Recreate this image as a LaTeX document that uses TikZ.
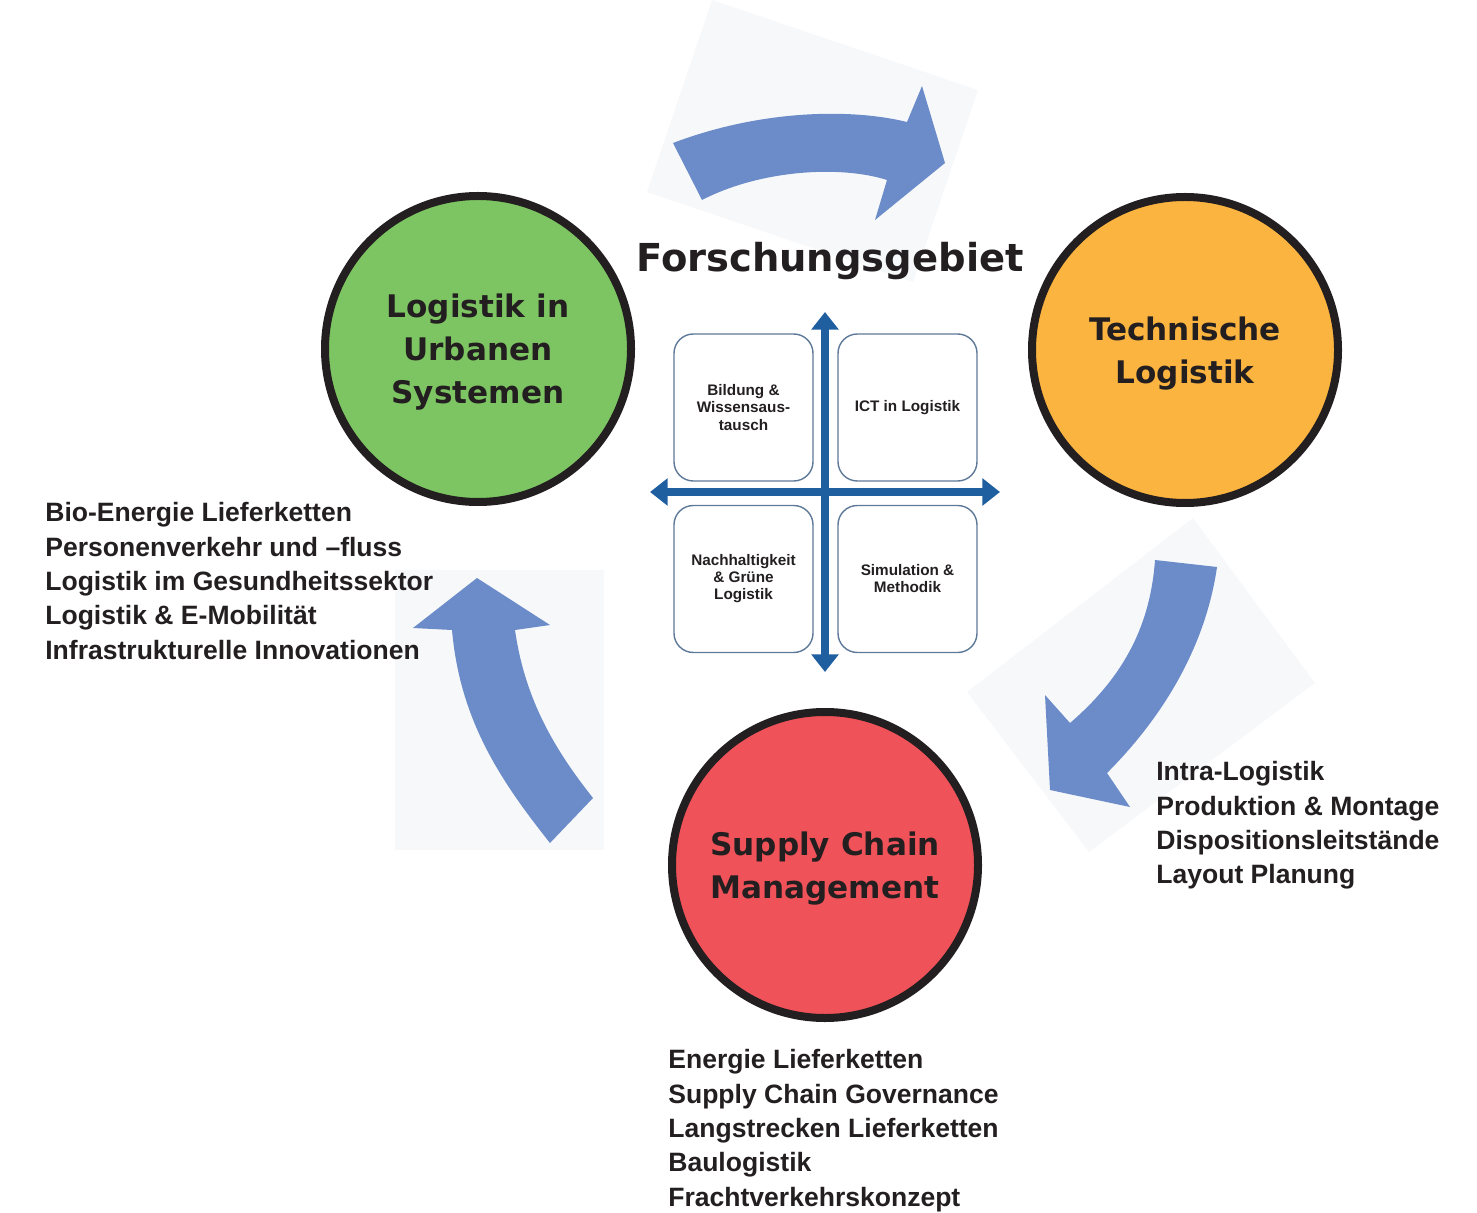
\documentclass[tikz,border=0pt]{standalone}
\usepackage{fontspec}
\setmainfont{Liberation Sans}
\newfontfamily\headfont{DejaVu Sans}
\usetikzlibrary{arrows.meta}
\definecolor{lgreen}{HTML}{7DC462}
\definecolor{lorange}{HTML}{FBB440}
\definecolor{lred}{HTML}{EF5258}
\definecolor{flow}{HTML}{6B8CC8}
\definecolor{axis}{HTML}{1F5FA0}
\definecolor{frame}{HTML}{5E7898}
\definecolor{ink}{HTML}{231F20}
\definecolor{patch}{HTML}{F7F8FA}

\begin{document}
\begin{tikzpicture}[x=0.2mm,y=-0.2mm]
    \tikzset{%
      area/.style={circle, draw=ink, line width=1.6mm, minimum
        size=61.2mm, inner sep=0pt, align=center, text=ink, text depth=0pt,
        font=\headfont\bfseries\fontsize{17.7}{24.5}\selectfont},
      field/.style={draw=frame, line width=0.8pt, rounded corners=11pt,
        minimum width=27.8mm, minimum height=29.4mm, align=center,
        text=ink, font=\bfseries\fontsize{8.7}{9.7}\selectfont},
      topics/.style={anchor=north west, inner sep=0pt, align=left,
        text=ink, font=\bfseries\fontsize{15.1}{19.6}\selectfont},
      flowarrow/.style={fill=flow, draw=none},
      axisarrow/.style={draw=axis, line width=4pt,
        {Triangle[length=10pt,width=15pt]}-{Triangle[length=10pt,width=15pt]}},
    }
    \useasboundingbox (0,0) rectangle (1477,1213);

    % faint backgrounds of the arrows
    \fill[patch] (712,0) -- (978,90) -- (913,282) -- (647,192) -- cycle;
    \fill[patch] (395,570) rectangle (604,850);
    \fill[patch] (1193,518) -- (1315,683) -- (1089,852) -- (967,692) -- cycle;

    % curved arrows
    \fill[flowarrow] (673,143) .. controls (760,110) and (850,108) .. (907,122)
      -- (922,86) -- (945,163) -- (875,220) -- (887,180)
      .. controls (840,165) and (760,170) .. (702,200) -- cycle;
    \fill[flowarrow] (1155,560) -- (1217,567)
      .. controls (1205,650) and (1160,720) .. (1107,773)
      -- (1130,807) -- (1050,790) -- (1045,695) -- (1070,723)
      .. controls (1120,680) and (1150,630) .. cycle;
    \fill[flowarrow] (477,578) -- (550,625) -- (515,630)
      .. controls (525,700) and (555,750) .. (593,798) -- (550,843)
      .. controls (500,780) and (460,720) .. (452,630) -- (413,628) -- cycle;

    % research field
    \node[text=ink, font=\headfont\bfseries\fontsize{21.9}{26}\selectfont]
      (title) at (830,261) {Forschungsgebiet};
    \node[field] (F1) at (743.5,407.5) {Bildung \&\\Wissensaus-\\tausch};
    \node[field] (F2) at (907.5,407.5) {ICT in Logistik};
    \node[field] (F3) at (743.5,579) {Nachhaltigkeit\\\& Grüne\\Logistik};
    \node[field] (F4) at (907.5,579) {Simulation \&\\Methodik};
    \coordinate (up) at (825,312);
    \coordinate (down) at (825,672);
    \coordinate (left) at (650,492);
    \coordinate (right) at (1000,492);
    \draw[axisarrow] (down) -- (up);
    \draw[axisarrow] (left) -- (right);

    % the three areas
    \node[area, fill=lgreen] (urban) at (478,349)
      {Logistik in\\Urbanen\\Systemen};
    \node[area, fill=lorange] (tech) at (1185,350)
      {Technische\\Logistik};
    \node[area, fill=lred] (scm) at (825,865)
      {Supply Chain\\Management};

    % topics
    \node[topics] (urbanlist) at (45,502)
      {Bio-Energie Lieferketten\\Personenverkehr und –fluss\\Logistik im Gesundheitssektor\\Logistik \& E-Mobilität\\Infrastrukturelle Innovationen};
    \node[topics] (techlist) at (1156,761)
      {Intra-Logistik\\Produktion \& Montage\\Dispositionsleitstände\\Layout Planung};
    \node[topics] (scmlist) at (668,1049)
      {Energie Lieferketten\\Supply Chain Governance\\Langstrecken Lieferketten\\Baulogistik\\Frachtverkehrskonzept};
  \end{tikzpicture}
\end{document}
